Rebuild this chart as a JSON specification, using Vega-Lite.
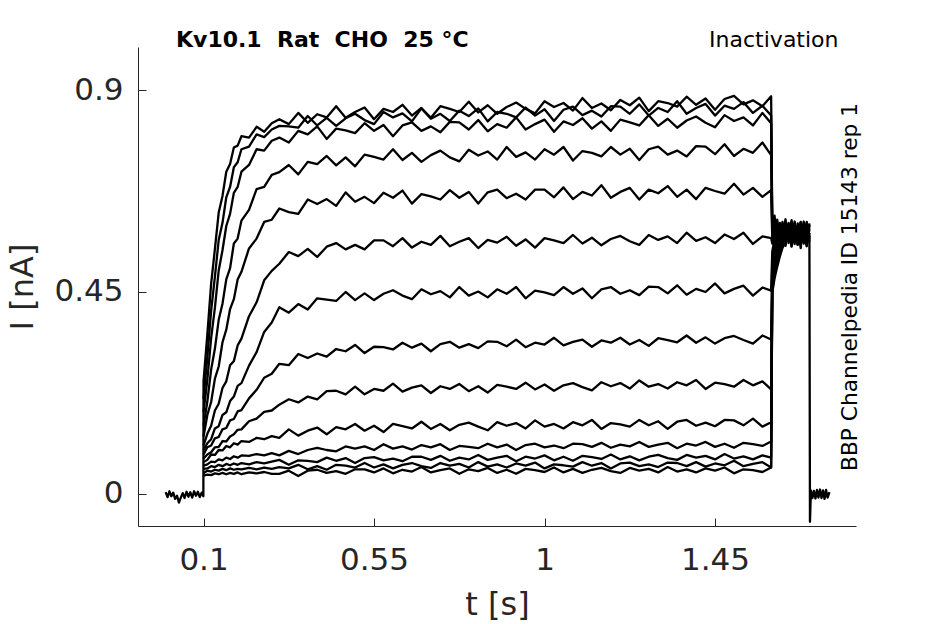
{
  "$schema": "https://vega.github.io/schema/vega-lite/v6.json",
  "width": 718,
  "height": 479,
  "autosize": {"type": "none"},
  "padding": {"left": 138, "top": 47, "right": 89, "bottom": 98},
  "background": "white",
  "config": {
    "font": "DejaVu Sans",
    "view": {"stroke": null},
    "axis": {
      "grid": false,
      "domainColor": "#262626",
      "tickColor": "#262626",
      "labelColor": "#262626",
      "titleColor": "#262626",
      "labelFont": "DejaVu Sans",
      "titleFont": "DejaVu Sans",
      "labelFontSize": 31,
      "titleFontSize": 32,
      "titleFontWeight": "normal",
      "tickSize": -8,
      "domainWidth": 1,
      "tickWidth": 1
    }
  },
  "title": {
    "text": "Kv10.1\u00a0 Rat\u00a0 CHO\u00a0 25 °C",
    "anchor": "start",
    "frame": "group",
    "dx": 38,
    "dy": 41,
    "fontSize": 22,
    "fontWeight": "bold",
    "color": "black",
    "font": "DejaVu Sans",
    "baseline": "alphabetic",
    "offset": 0
  },
  "data": {
    "values": [
      {"k": "A",
       "t": [0,0.005,0.01,0.015,0.02,0.025,0.03,0.035,0.04,0.045,0.05,0.055,0.06,0.065,0.07,0.075,0.08,0.085,0.09,0.095,0.0995,0.1,0.11,0.12,0.13,0.14,0.15,0.16,0.17,0.18,0.19,0.2,0.22,0.24,0.26,0.28,0.3,0.325,0.35,0.375,0.4,0.425,0.45,0.475,0.5,0.525,0.55,0.575,0.6,0.625,0.65,0.675,0.7,0.725,0.75,0.775,0.8,0.825,0.85,0.875,0.9,0.925,0.95,0.975,1,1.025,1.05,1.075,1.1,1.125,1.15,1.175,1.2,1.225,1.25,1.275,1.3,1.325,1.35,1.375,1.4,1.425,1.45,1.475,1.5,1.525,1.55,1.575,1.598,1.601,1.607,1.614,1.621,1.628,1.636,1.644,1.652,1.66,1.668,1.676,1.684,1.692,1.699,1.7005,1.703,1.707,1.711,1.715,1.719,1.723,1.727,1.731,1.735,1.739,1.743,1.747,1.752],
       "i": [0.004,-0.007,0.006,-0.005,0.003,-0.011,-0.004,-0.019,-0.008,0.002,-0.009,0.005,-0.006,0.004,-0.008,0.006,-0.004,0.005,-0.007,0.003,-0.005,0.252,0.355,0.468,0.546,0.627,0.664,0.718,0.735,0.772,0.776,0.797,0.794,0.818,0.807,0.826,0.835,0.824,0.849,0.827,0.846,0.839,0.864,0.838,0.851,0.861,0.835,0.858,0.851,0.867,0.843,0.860,0.838,0.864,0.858,0.851,0.874,0.850,0.866,0.847,0.862,0.872,0.858,0.848,0.875,0.862,0.871,0.854,0.882,0.860,0.870,0.855,0.878,0.866,0.883,0.853,0.875,0.871,0.863,0.885,0.867,0.881,0.856,0.880,0.887,0.868,0.877,0.864,0.886,0.612,0.571,0.598,0.560,0.603,0.566,0.597,0.552,0.601,0.574,0.606,0.558,0.594,0.580,-0.062,0.008,-0.009,0.007,-0.010,0.009,-0.008,0.010,-0.009,0.008,-0.011,0.009,-0.008,0.004]},
      {"k": "B",
       "t": [0.1,0.11,0.12,0.13,0.14,0.15,0.16,0.17,0.18,0.19,0.2,0.22,0.24,0.26,0.28,0.3,0.325,0.35,0.375,0.4,0.425,0.45,0.475,0.5,0.525,0.55,0.575,0.6,0.625,0.65,0.675,0.7,0.725,0.75,0.775,0.8,0.825,0.85,0.875,0.9,0.925,0.95,0.975,1,1.025,1.05,1.075,1.1,1.125,1.15,1.175,1.2,1.225,1.25,1.275,1.3,1.325,1.35,1.375,1.4,1.425,1.45,1.475,1.5,1.525,1.55,1.575,1.598,1.601,1.607,1.614,1.621,1.628,1.636,1.644,1.652,1.66,1.668,1.676,1.684,1.692,1.699],
       "i": [0.212,0.305,0.408,0.484,0.566,0.604,0.661,0.684,0.728,0.739,0.768,0.774,0.801,0.795,0.812,0.820,0.819,0.816,0.842,0.821,0.838,0.820,0.837,0.847,0.833,0.824,0.851,0.839,0.848,0.830,0.859,0.836,0.847,0.831,0.854,0.842,0.859,0.830,0.851,0.847,0.839,0.861,0.843,0.857,0.831,0.856,0.863,0.844,0.854,0.841,0.864,0.863,0.847,0.868,0.843,0.860,0.851,0.875,0.847,0.860,0.869,0.843,0.865,0.858,0.873,0.849,0.865,0.843,0.598,0.620,0.567,0.604,0.556,0.599,0.573,0.610,0.561,0.592,0.548,0.603,0.569,0.590]},
      {"k": "C",
       "t": [0.1,0.11,0.12,0.13,0.14,0.15,0.16,0.17,0.18,0.19,0.2,0.22,0.24,0.26,0.28,0.3,0.325,0.35,0.375,0.4,0.425,0.45,0.475,0.5,0.525,0.55,0.575,0.6,0.625,0.65,0.675,0.7,0.725,0.75,0.775,0.8,0.825,0.85,0.875,0.9,0.925,0.95,0.975,1,1.025,1.05,1.075,1.1,1.125,1.15,1.175,1.2,1.225,1.25,1.275,1.3,1.325,1.35,1.375,1.4,1.425,1.45,1.475,1.5,1.525,1.55,1.575,1.598,1.601,1.607,1.614,1.621,1.628,1.636,1.644,1.652,1.66,1.668,1.676,1.684,1.692,1.699],
       "i": [0.183,0.254,0.347,0.415,0.498,0.543,0.597,0.624,0.671,0.684,0.718,0.733,0.768,0.765,0.787,0.794,0.783,0.809,0.801,0.819,0.791,0.814,0.810,0.804,0.826,0.809,0.822,0.797,0.821,0.828,0.809,0.819,0.806,0.829,0.828,0.812,0.833,0.808,0.824,0.816,0.839,0.812,0.824,0.834,0.807,0.830,0.822,0.837,0.814,0.830,0.809,0.834,0.828,0.821,0.844,0.820,0.836,0.816,0.832,0.841,0.827,0.817,0.844,0.831,0.839,0.821,0.849,0.826,0.590,0.556,0.611,0.575,0.598,0.553,0.602,0.568,0.607,0.559,0.596,0.581,0.553,0.600]},
      {"k": "D",
       "t": [0.1,0.11,0.12,0.13,0.14,0.15,0.16,0.17,0.18,0.19,0.2,0.22,0.24,0.26,0.28,0.3,0.325,0.35,0.375,0.4,0.425,0.45,0.475,0.5,0.525,0.55,0.575,0.6,0.625,0.65,0.675,0.7,0.725,0.75,0.775,0.8,0.825,0.85,0.875,0.9,0.925,0.95,0.975,1,1.025,1.05,1.075,1.1,1.125,1.15,1.175,1.2,1.225,1.25,1.275,1.3,1.325,1.35,1.375,1.4,1.425,1.45,1.475,1.5,1.525,1.55,1.575,1.598,1.601,1.607,1.614,1.621,1.628,1.636,1.644,1.652,1.66,1.668,1.676,1.684,1.692,1.699],
       "i": [0.152,0.206,0.277,0.324,0.388,0.424,0.478,0.503,0.558,0.569,0.609,0.633,0.679,0.684,0.711,0.717,0.733,0.712,0.740,0.735,0.753,0.732,0.750,0.730,0.756,0.751,0.745,0.768,0.744,0.760,0.740,0.755,0.765,0.750,0.741,0.767,0.754,0.763,0.745,0.773,0.751,0.761,0.745,0.768,0.756,0.773,0.743,0.764,0.760,0.752,0.773,0.756,0.769,0.744,0.768,0.774,0.756,0.765,0.752,0.775,0.774,0.757,0.779,0.753,0.769,0.760,0.783,0.755,0.583,0.604,0.562,0.592,0.570,0.612,0.559,0.596,0.576,0.555,0.605,0.566,0.598,0.572]},
      {"k": "E",
       "t": [0.1,0.11,0.12,0.13,0.14,0.15,0.16,0.17,0.18,0.19,0.2,0.22,0.24,0.26,0.28,0.3,0.325,0.35,0.375,0.4,0.425,0.45,0.475,0.5,0.525,0.55,0.575,0.6,0.625,0.65,0.675,0.7,0.725,0.75,0.775,0.8,0.825,0.85,0.875,0.9,0.925,0.95,0.975,1,1.025,1.05,1.075,1.1,1.125,1.15,1.175,1.2,1.225,1.25,1.275,1.3,1.325,1.35,1.375,1.4,1.425,1.45,1.475,1.5,1.525,1.55,1.575,1.598,1.601,1.607,1.614,1.621,1.628,1.636,1.644,1.652,1.66,1.668,1.676,1.684,1.692,1.699],
       "i": [0.128,0.176,0.205,0.257,0.284,0.338,0.366,0.412,0.434,0.478,0.495,0.547,0.569,0.606,0.611,0.636,0.628,0.624,0.656,0.646,0.657,0.642,0.672,0.651,0.662,0.648,0.671,0.660,0.676,0.647,0.668,0.663,0.656,0.677,0.660,0.673,0.647,0.672,0.678,0.659,0.669,0.656,0.678,0.678,0.661,0.683,0.657,0.673,0.665,0.688,0.660,0.673,0.682,0.656,0.678,0.670,0.686,0.662,0.678,0.657,0.682,0.675,0.669,0.691,0.667,0.682,0.662,0.677,0.570,0.592,0.581,0.557,0.606,0.574,0.589,0.551,0.600,0.586,0.563,0.607,0.575,0.561]},
      {"k": "F",
       "t": [0.1,0.11,0.12,0.13,0.14,0.15,0.16,0.17,0.18,0.19,0.2,0.22,0.24,0.26,0.28,0.3,0.325,0.35,0.375,0.4,0.425,0.45,0.475,0.5,0.525,0.55,0.575,0.6,0.625,0.65,0.675,0.7,0.725,0.75,0.775,0.8,0.825,0.85,0.875,0.9,0.925,0.95,0.975,1,1.025,1.05,1.075,1.1,1.125,1.15,1.175,1.2,1.225,1.25,1.275,1.3,1.325,1.35,1.375,1.4,1.425,1.45,1.475,1.5,1.525,1.55,1.575,1.598,1.601,1.607,1.614,1.621,1.628,1.636,1.644,1.652,1.66,1.668,1.676,1.684,1.692,1.699],
       "i": [0.108,0.134,0.152,0.186,0.201,0.236,0.251,0.287,0.296,0.331,0.346,0.396,0.427,0.476,0.497,0.513,0.539,0.530,0.546,0.528,0.551,0.559,0.545,0.555,0.545,0.565,0.565,0.552,0.570,0.549,0.562,0.555,0.575,0.552,0.562,0.570,0.548,0.566,0.560,0.573,0.553,0.567,0.549,0.570,0.565,0.559,0.577,0.558,0.571,0.554,0.568,0.575,0.563,0.555,0.577,0.566,0.574,0.559,0.582,0.564,0.572,0.559,0.578,0.568,0.582,0.557,0.574,0.570,0.558,0.583,0.565,0.601,0.572,0.556,0.604,0.580,0.562,0.598,0.570,0.589,0.552,0.603]},
      {"k": "G",
       "t": [0.1,0.11,0.12,0.13,0.14,0.15,0.16,0.17,0.18,0.19,0.2,0.22,0.24,0.26,0.28,0.3,0.325,0.35,0.375,0.4,0.425,0.45,0.475,0.5,0.525,0.55,0.575,0.6,0.625,0.65,0.675,0.7,0.725,0.75,0.775,0.8,0.825,0.85,0.875,0.9,0.925,0.95,0.975,1,1.025,1.05,1.075,1.1,1.125,1.15,1.175,1.2,1.225,1.25,1.275,1.3,1.325,1.35,1.375,1.4,1.425,1.45,1.475,1.5,1.525,1.55,1.575,1.598,1.601,1.607,1.614,1.621,1.628,1.636,1.644,1.652,1.66,1.668,1.676,1.684,1.692,1.699],
       "i": [0.098,0.113,0.122,0.146,0.151,0.176,0.182,0.207,0.217,0.241,0.247,0.286,0.316,0.361,0.382,0.416,0.404,0.423,0.411,0.436,0.433,0.430,0.450,0.432,0.447,0.432,0.446,0.454,0.442,0.434,0.456,0.445,0.452,0.438,0.461,0.442,0.451,0.438,0.456,0.446,0.461,0.436,0.453,0.449,0.443,0.461,0.446,0.458,0.436,0.456,0.461,0.446,0.454,0.443,0.462,0.461,0.447,0.465,0.444,0.457,0.450,0.469,0.447,0.457,0.464,0.442,0.460,0.453,0.540,0.568,0.589,0.562,0.581,0.598,0.566,0.590,0.557,0.603,0.577,0.560,0.595,0.571]},
      {"k": "H",
       "t": [0.1,0.11,0.12,0.13,0.14,0.15,0.16,0.17,0.18,0.19,0.2,0.22,0.24,0.26,0.28,0.3,0.325,0.35,0.375,0.4,0.425,0.45,0.475,0.5,0.525,0.55,0.575,0.6,0.625,0.65,0.675,0.7,0.725,0.75,0.775,0.8,0.825,0.85,0.875,0.9,0.925,0.95,0.975,1,1.025,1.05,1.075,1.1,1.125,1.15,1.175,1.2,1.225,1.25,1.275,1.3,1.325,1.35,1.375,1.4,1.425,1.45,1.475,1.5,1.525,1.55,1.575,1.598,1.601,1.607,1.614,1.621,1.628,1.636,1.644,1.652,1.66,1.668,1.676,1.684,1.692,1.699],
       "i": [0.088,0.104,0.108,0.124,0.127,0.144,0.147,0.164,0.167,0.184,0.187,0.213,0.232,0.259,0.268,0.290,0.287,0.312,0.303,0.313,0.306,0.323,0.318,0.332,0.314,0.328,0.327,0.322,0.337,0.326,0.335,0.318,0.334,0.339,0.326,0.334,0.325,0.340,0.339,0.329,0.344,0.327,0.337,0.333,0.348,0.331,0.339,0.344,0.328,0.342,0.337,0.348,0.333,0.343,0.330,0.347,0.343,0.338,0.353,0.337,0.349,0.335,0.347,0.352,0.343,0.335,0.353,0.344,0.522,0.551,0.566,0.584,0.559,0.592,0.573,0.558,0.600,0.569,0.588,0.576,0.606,0.564]},
      {"k": "I",
       "t": [0.1,0.11,0.12,0.13,0.14,0.15,0.16,0.17,0.18,0.19,0.2,0.22,0.24,0.26,0.28,0.3,0.325,0.35,0.375,0.4,0.425,0.45,0.475,0.5,0.525,0.55,0.575,0.6,0.625,0.65,0.675,0.7,0.725,0.75,0.775,0.8,0.825,0.85,0.875,0.9,0.925,0.95,0.975,1,1.025,1.05,1.075,1.1,1.125,1.15,1.175,1.2,1.225,1.25,1.275,1.3,1.325,1.35,1.375,1.4,1.425,1.45,1.475,1.5,1.525,1.55,1.575,1.598,1.601,1.607,1.614,1.621,1.628,1.636,1.644,1.652,1.66,1.668,1.676,1.684,1.692,1.699],
       "i": [0.079,0.088,0.093,0.104,0.105,0.118,0.117,0.128,0.133,0.143,0.144,0.162,0.168,0.183,0.186,0.199,0.211,0.204,0.217,0.211,0.229,0.230,0.222,0.239,0.222,0.234,0.230,0.246,0.228,0.237,0.242,0.225,0.240,0.234,0.245,0.229,0.240,0.226,0.243,0.239,0.234,0.248,0.233,0.244,0.230,0.242,0.247,0.238,0.231,0.249,0.240,0.247,0.235,0.253,0.239,0.245,0.235,0.249,0.242,0.254,0.234,0.248,0.245,0.239,0.254,0.242,0.251,0.233,0.505,0.537,0.558,0.547,0.579,0.566,0.594,0.571,0.585,0.555,0.599,0.582,0.567,0.593]},
      {"k": "J",
       "t": [0.1,0.11,0.12,0.13,0.14,0.15,0.16,0.17,0.18,0.19,0.2,0.22,0.24,0.26,0.28,0.3,0.325,0.35,0.375,0.4,0.425,0.45,0.475,0.5,0.525,0.55,0.575,0.6,0.625,0.65,0.675,0.7,0.725,0.75,0.775,0.8,0.825,0.85,0.875,0.9,0.925,0.95,0.975,1,1.025,1.05,1.075,1.1,1.125,1.15,1.175,1.2,1.225,1.25,1.275,1.3,1.325,1.35,1.375,1.4,1.425,1.45,1.475,1.5,1.525,1.55,1.575,1.598,1.601,1.607,1.614,1.621,1.628,1.636,1.644,1.652,1.66,1.668,1.676,1.684,1.692,1.699],
       "i": [0.071,0.076,0.088,0.087,0.098,0.097,0.107,0.104,0.113,0.110,0.118,0.116,0.125,0.122,0.129,0.125,0.144,0.130,0.141,0.148,0.133,0.149,0.144,0.156,0.141,0.152,0.138,0.156,0.151,0.146,0.161,0.145,0.156,0.142,0.154,0.159,0.150,0.142,0.160,0.152,0.158,0.146,0.164,0.150,0.156,0.146,0.160,0.153,0.165,0.145,0.158,0.155,0.150,0.165,0.153,0.162,0.145,0.161,0.165,0.152,0.159,0.151,0.165,0.164,0.153,0.168,0.150,0.160,0.488,0.521,0.544,0.563,0.552,0.583,0.569,0.597,0.577,0.560,0.590,0.572,0.603,0.584]},
      {"k": "K",
       "t": [0.1,0.11,0.12,0.13,0.14,0.15,0.16,0.17,0.18,0.19,0.2,0.22,0.24,0.26,0.28,0.3,0.325,0.35,0.375,0.4,0.425,0.45,0.475,0.5,0.525,0.55,0.575,0.6,0.625,0.65,0.675,0.7,0.725,0.75,0.775,0.8,0.825,0.85,0.875,0.9,0.925,0.95,0.975,1,1.025,1.05,1.075,1.1,1.125,1.15,1.175,1.2,1.225,1.25,1.275,1.3,1.325,1.35,1.375,1.4,1.425,1.45,1.475,1.5,1.525,1.55,1.575,1.598,1.601,1.607,1.614,1.621,1.628,1.636,1.644,1.652,1.66,1.668,1.676,1.684,1.692,1.699],
       "i": [0.063,0.066,0.072,0.071,0.077,0.075,0.081,0.078,0.084,0.081,0.086,0.085,0.089,0.086,0.091,0.086,0.096,0.089,0.098,0.103,0.098,0.095,0.106,0.101,0.106,0.098,0.111,0.101,0.106,0.099,0.109,0.104,0.111,0.098,0.107,0.105,0.102,0.112,0.104,0.110,0.098,0.109,0.112,0.104,0.108,0.102,0.112,0.111,0.105,0.114,0.103,0.110,0.106,0.116,0.105,0.110,0.114,0.102,0.112,0.108,0.116,0.105,0.112,0.103,0.114,0.111,0.107,0.117,0.472,0.509,0.533,0.551,0.570,0.558,0.585,0.575,0.596,0.568,0.583,0.601,0.578,0.589]},
      {"k": "L",
       "t": [0.1,0.11,0.12,0.13,0.14,0.15,0.16,0.17,0.18,0.19,0.2,0.22,0.24,0.26,0.28,0.3,0.325,0.35,0.375,0.4,0.425,0.45,0.475,0.5,0.525,0.55,0.575,0.6,0.625,0.65,0.675,0.7,0.725,0.75,0.775,0.8,0.825,0.85,0.875,0.9,0.925,0.95,0.975,1,1.025,1.05,1.075,1.1,1.125,1.15,1.175,1.2,1.225,1.25,1.275,1.3,1.325,1.35,1.375,1.4,1.425,1.45,1.475,1.5,1.525,1.55,1.575,1.598,1.601,1.607,1.614,1.621,1.628,1.636,1.644,1.652,1.66,1.668,1.676,1.684,1.692,1.699],
       "i": [0.056,0.057,0.062,0.060,0.065,0.062,0.067,0.064,0.068,0.065,0.069,0.066,0.071,0.068,0.072,0.076,0.065,0.075,0.074,0.071,0.081,0.074,0.080,0.069,0.080,0.082,0.075,0.079,0.073,0.083,0.083,0.076,0.085,0.074,0.081,0.077,0.087,0.076,0.081,0.085,0.073,0.083,0.079,0.086,0.075,0.083,0.074,0.085,0.082,0.078,0.088,0.077,0.084,0.075,0.083,0.087,0.080,0.076,0.087,0.081,0.085,0.077,0.089,0.079,0.084,0.077,0.086,0.081,0.463,0.497,0.525,0.542,0.561,0.578,0.567,0.590,0.574,0.598,0.582,0.565,0.594,0.579]},
      {"k": "M",
       "t": [0.1,0.11,0.12,0.13,0.14,0.15,0.16,0.17,0.18,0.19,0.2,0.22,0.24,0.26,0.28,0.3,0.325,0.35,0.375,0.4,0.425,0.45,0.475,0.5,0.525,0.55,0.575,0.6,0.625,0.65,0.675,0.7,0.725,0.75,0.775,0.8,0.825,0.85,0.875,0.9,0.925,0.95,0.975,1,1.025,1.05,1.075,1.1,1.125,1.15,1.175,1.2,1.225,1.25,1.275,1.3,1.325,1.35,1.375,1.4,1.425,1.45,1.475,1.5,1.525,1.55,1.575,1.598,1.601,1.607,1.614,1.621,1.628,1.636,1.644,1.652,1.66,1.668,1.676,1.684,1.692,1.699],
       "i": [0.047,0.052,0.050,0.054,0.052,0.056,0.053,0.057,0.054,0.056,0.055,0.058,0.055,0.059,0.056,0.060,0.057,0.065,0.055,0.062,0.054,0.065,0.063,0.059,0.069,0.059,0.066,0.057,0.065,0.069,0.062,0.058,0.069,0.063,0.067,0.059,0.071,0.061,0.066,0.059,0.068,0.063,0.070,0.057,0.066,0.064,0.061,0.071,0.063,0.069,0.057,0.068,0.070,0.062,0.066,0.060,0.070,0.069,0.062,0.071,0.061,0.068,0.064,0.074,0.062,0.067,0.071,0.059,0.455,0.488,0.514,0.536,0.553,0.571,0.585,0.563,0.592,0.577,0.601,0.574,0.588,0.568]},
      {"k": "N",
       "t": [0.1,0.11,0.12,0.13,0.14,0.15,0.16,0.17,0.18,0.19,0.2,0.22,0.24,0.26,0.28,0.3,0.325,0.35,0.375,0.4,0.425,0.45,0.475,0.5,0.525,0.55,0.575,0.6,0.625,0.65,0.675,0.7,0.725,0.75,0.775,0.8,0.825,0.85,0.875,0.9,0.925,0.95,0.975,1,1.025,1.05,1.075,1.1,1.125,1.15,1.175,1.2,1.225,1.25,1.275,1.3,1.325,1.35,1.375,1.4,1.425,1.45,1.475,1.5,1.525,1.55,1.575,1.598,1.601,1.607,1.614,1.621,1.628,1.636,1.644,1.652,1.66,1.668,1.676,1.684,1.692,1.699],
       "i": [0.041,0.043,0.042,0.046,0.044,0.047,0.044,0.047,0.045,0.048,0.044,0.048,0.046,0.049,0.045,0.045,0.052,0.040,0.052,0.054,0.047,0.051,0.045,0.055,0.055,0.048,0.057,0.046,0.054,0.050,0.060,0.048,0.053,0.057,0.045,0.055,0.051,0.058,0.047,0.054,0.045,0.056,0.053,0.049,0.059,0.048,0.056,0.047,0.054,0.058,0.051,0.047,0.058,0.052,0.056,0.048,0.060,0.050,0.055,0.048,0.057,0.052,0.059,0.046,0.055,0.053,0.049,0.059,0.448,0.480,0.506,0.529,0.548,0.562,0.580,0.572,0.589,0.567,0.595,0.583,0.571,0.598]}
    ]
  },
  "transform": [{"flatten": ["t", "i"]}],
  "layer": [
    {
      "mark": {"type": "line", "color": "black", "strokeWidth": 2.3, "strokeJoin": "round"},
      "encoding": {
        "x": {
          "field": "t", "type": "quantitative",
          "scale": {"domain": [-0.073, 1.822], "nice": false, "zero": false},
          "axis": {"orient": "bottom", "values": [0.1, 0.55, 1, 1.45], "format": ".3~g", "title": "t [s]", "labelPadding": 27, "titlePadding": 14}
        },
        "y": {
          "field": "i", "type": "quantitative",
          "scale": {"domain": [-0.0713, 0.9958], "nice": false, "zero": false},
          "axis": {"orient": "left", "values": [0, 0.45, 0.9], "format": ".3~g", "title": "I [nA]", "labelPadding": 23, "titlePadding": 14}
        },
        "detail": {"field": "k"},
        "order": {"field": "t"}
      }
    },
    {
      "transform": [{"filter": {"field": "k", "equal": "A"}}],
      "mark": {"type": "line", "strokeOpacity": 0},
      "encoding": {
        "x": {
          "field": "t", "type": "quantitative",
          "scale": {"domain": [-0.073, 1.822], "nice": false, "zero": false},
          "axis": {"orient": "top", "domain": false, "ticks": false, "labels": false, "title": "Inactivation", "titleFontSize": 22, "titleColor": "black", "titleX": 700, "titleY": -1, "titleAlign": "right", "titleBaseline": "alphabetic"}
        },
        "y": {
          "field": "i", "type": "quantitative",
          "scale": {"domain": [-0.0713, 0.9958], "nice": false, "zero": false},
          "axis": {"orient": "right", "domain": false, "ticks": false, "labels": false, "title": "BBP Channelpedia ID 15143 rep 1", "titleFontSize": 21.7, "titleColor": "black", "titleAngle": 270, "titleX": -7, "titleY": 239.5, "titleAlign": "center", "titleBaseline": "middle"}
        },
        "detail": {"field": "k"}
      }
    }
  ],
  "resolve": {"axis": {"x": "independent", "y": "independent"}}
}
